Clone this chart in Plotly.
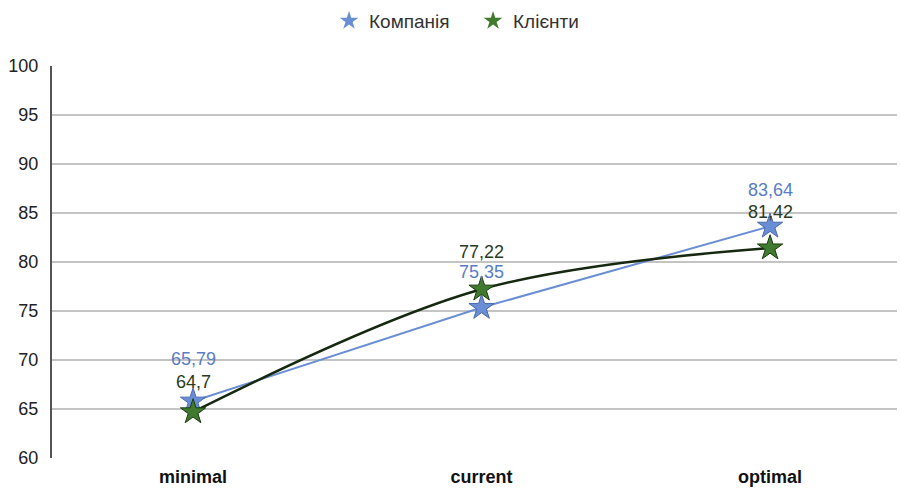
import plotly.graph_objects as go

categories = ["minimal", "current", "optimal"]
kompaniia = [65.79, 75.35, 83.64]
klienty = [64.7, 77.22, 81.42]
kompaniia_labels = ["65,79", "75,35", "83,64"]
klienty_labels = ["64,7", "77,22", "81,42"]
y_ticks = [60, 65, 70, 75, 80, 85, 90, 95, 100]

BLUE = "#6a8ed4"
BLUE_TXT = "#5a7cc4"
GREEN = "#3f7a2e"
GREEN_LINE = "#16280f"
GREEN_TXT = "#2b3a22"
FONT = "Liberation Sans, Arial, sans-serif"

x_idx = list(range(len(categories)))

fig = go.Figure()
fig.add_trace(go.Scatter(
    x=x_idx, y=kompaniia, mode="lines+markers", showlegend=False,
    line=dict(color=BLUE, width=2),
    marker=dict(symbol="star", size=19, color=BLUE, line=dict(color="#4a6ab0", width=1)),
))
fig.add_trace(go.Scatter(
    x=x_idx, y=klienty, mode="lines+markers", showlegend=False,
    line=dict(color=GREEN_LINE, width=2.5, shape="spline", smoothing=1.0),
    marker=dict(symbol="star", size=19, color=GREEN, line=dict(color="#1c3a12", width=1)),
))
# legend-only entries (marker only)
fig.add_trace(go.Scatter(x=[None], y=[None], mode="markers", name="Компанія",
                         marker=dict(symbol="star", size=14, color=BLUE)))
fig.add_trace(go.Scatter(x=[None], y=[None], mode="markers", name="Клієнти",
                         marker=dict(symbol="star", size=14, color=GREEN)))

blue_shift = [42, 36, 36]
green_shift = [30, 37, 36]
for i in x_idx:
    fig.add_annotation(x=i, y=kompaniia[i], text=kompaniia_labels[i], showarrow=False,
                       yshift=blue_shift[i], font=dict(family=FONT, size=18, color=BLUE_TXT))
    fig.add_annotation(x=i, y=klienty[i], text=klienty_labels[i], showarrow=False,
                       yshift=green_shift[i], font=dict(family=FONT, size=18, color=GREEN_TXT))

fig.update_layout(
    width=900, height=488,
    margin=dict(l=52, r=3, t=66, b=30, autoexpand=False),
    paper_bgcolor="white", plot_bgcolor="white",
    font=dict(family=FONT, size=18, color="#222"),
    legend=dict(orientation="h", x=0.5256, xanchor="center", xref="container",
                y=0.918, yanchor="bottom", yref="container",
                font=dict(family=FONT, size=19, color="#333"),
                itemwidth=30, entrywidth=99),
    xaxis=dict(
        tickmode="array", tickvals=x_idx, ticktext=[f"<b>{c}</b>" for c in categories],
        range=[-0.489, 2.44], showgrid=False, zeroline=False, showline=False,
        tickfont=dict(family=FONT, size=18, color="#111"),
        ticklabelstandoff=6, automargin=False,
    ),
    yaxis=dict(
        range=[60, 100], tickvals=y_ticks, showgrid=True, gridcolor="#c4c4c4", gridwidth=2,
        zeroline=False, showline=True, linecolor="#555", linewidth=2,
        tickfont=dict(family=FONT, size=18, color="#222"), ticklabelstandoff=8,
        automargin=False,
    ),
)
fig.write_html("out.html")
